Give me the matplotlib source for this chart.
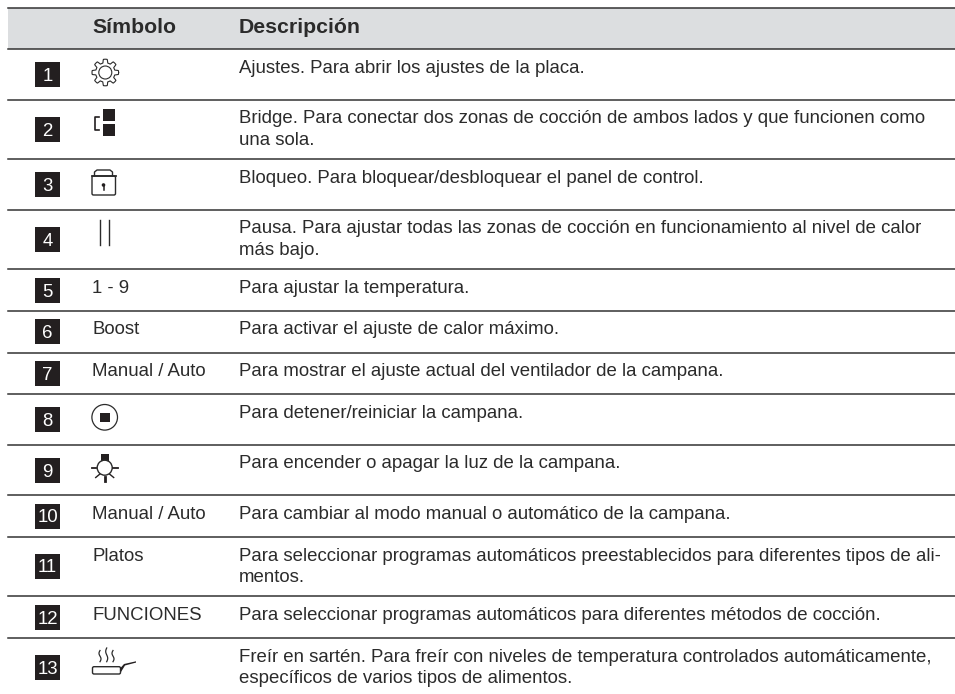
import matplotlib
matplotlib.use('Agg')
import numpy as np
import matplotlib.pyplot as plt
from matplotlib.patches import Rectangle, Circle, FancyBboxPatch, Polygon

plt.rcParams['font.family'] = ['Liberation Sans', 'DejaVu Sans']

header = ['Símbolo', 'Descripción']
row_numbers = ['1', '2', '3', '4', '5', '6', '7', '8', '9', '10', '11', '12', '13']
symbols = ['gear', 'bridge', 'lock', 'pause', '1 - 9', 'Boost', 'Manual / Auto',
           'stop', 'bulb', 'Manual / Auto', 'Platos', 'FUNCIONES', 'pan']
descriptions = [
    'Ajustes. Para abrir los ajustes de la placa.',
    'Bridge. Para conectar dos zonas de cocción de ambos lados y que funcionen como\nuna sola.',
    'Bloqueo. Para bloquear/desbloquear el panel de control.',
    'Pausa. Para ajustar todas las zonas de cocción en funcionamiento al nivel de calor\nmás bajo.',
    'Para ajustar la temperatura.',
    'Para activar el ajuste de calor máximo.',
    'Para mostrar el ajuste actual del ventilador de la campana.',
    'Para detener/reiniciar la campana.',
    'Para encender o apagar la luz de la campana.',
    'Para cambiar al modo manual o automático de la campana.',
    'Para seleccionar programas automáticos preestablecidos para diferentes tipos de ali-\nmentos.',
    'Para seleccionar programas automáticos para diferentes métodos de cocción.',
    'Freír en sartén. Para freír con niveles de temperatura controlados automáticamente,\nespecíficos de varios tipos de alimentos.',
]

# layout in pixels
row_lines = [49, 99.5, 159, 209.7, 269, 310.7, 352.7, 394, 444.7, 495, 537, 596, 638]
box_tops = [62, 117, 172, 227, 278, 319, 361, 407, 458, 504, 554, 605, 655]
LEFT, RIGHT = 8, 955
DESC_X = 239
SYM_X = 92
FS = 13.45
FS_HEAD = 15.3
LINE_STEP = 21.5
INK = '#2b2b2b'
BLACK = '#231f20'

fig = plt.figure(figsize=(9.55, 6.94), dpi=100)
ax = fig.add_axes([0, 0, 1, 1])
ax.set_xlim(0, 955)
ax.set_ylim(694, 0)
ax.axis('off')


def draw_symbol(name, y):
    # y is the top of the row, icons are placed relative to it
    if name == 'gear':
        cx, cy = 105.3, y + 23.5
        ang = np.linspace(0, 2 * np.pi, 289)
        r = 11.5 + 1.8 * np.clip(2.5 * np.cos(8 * ang), -1, 1)
        ax.plot(cx + r * np.cos(ang), cy + r * np.sin(ang), color=INK, lw=0.8)
        ax.add_patch(Circle((cx, cy), 6.5, fc='none', ec=INK, lw=0.8))
    elif name == 'bridge':
        ax.add_patch(Rectangle((102.7, y + 9.5), 12.3, 11.7, fc=BLACK, ec='none'))
        ax.add_patch(Rectangle((102.7, y + 24.8), 12.3, 11.7, fc=BLACK, ec='none'))
        ax.plot([98.5, 95, 95, 98.5], [y + 17.5, y + 17.5, y + 30.5, y + 30.5], color=BLACK, lw=1.2)
    elif name == 'lock':
        ax.add_patch(FancyBboxPatch((92, y + 17), 23.5, 19, boxstyle='round,pad=0,rounding_size=1.5',
                                    fc='none', ec=INK, lw=1))
        ax.plot([94.5, 94.5, 97, 110, 112.5, 112.5], [y + 17, y + 13, y + 11, y + 11, y + 13, y + 17],
                color=INK, lw=1)
        ax.plot([92, 115.5], [y + 17, y + 17], color=INK, lw=1.3)
        ax.add_patch(Circle((103.5, y + 26), 1.8, fc=BLACK, ec='none'))
        ax.plot([103.5, 103.5], [y + 26, y + 31], color=BLACK, lw=1.1)
    elif name == 'pause':
        ax.plot([100, 100], [y + 10, y + 35], color=INK, lw=1)
        ax.plot([108.5, 108.5], [y + 10, y + 35], color=INK, lw=1)
    elif name == 'stop':
        ax.add_patch(Circle((104.7, y + 23.3), 12.8, fc='none', ec=INK, lw=0.9))
        ax.add_patch(Rectangle((100, y + 18.5), 10, 9.6, fc=BLACK, ec='none'))
    elif name == 'bulb':
        cx, cy = 104.7, y + 23
        ax.add_patch(Rectangle((cx - 3.8, y + 9.5), 7.6, 8, fc=BLACK, ec='none'))
        ax.add_patch(Circle((cx, cy), 7.5, fc='white', ec=INK, lw=1, zorder=3))
        ax.plot([cx - 13, cx - 8.5], [cy, cy], color=BLACK, lw=1.3, zorder=3)
        ax.plot([cx + 8.5, cx + 13], [cy, cy], color=BLACK, lw=1.3, zorder=3)
        ax.plot([cx, cx], [cy + 9.5, cy + 13], color=BLACK, lw=2, zorder=3)
        ax.plot([cx - 9, cx - 5], [cy + 9.8, cy + 6.5], color=BLACK, lw=1, zorder=3)
        ax.plot([cx + 9, cx + 5], [cy + 9.8, cy + 6.5], color=BLACK, lw=1, zorder=3)
    elif name == 'pan':
        ax.add_patch(FancyBboxPatch((92.5, y + 28.7), 28, 7.3, boxstyle='round,pad=0,rounding_size=1.5',
                                    fc='none', ec=INK, lw=1))
        ax.add_patch(Polygon([[120.5, y + 30], [124, y + 26], [136, y + 23.3], [136, y + 24.6],
                              [125, y + 27.5], [121, y + 34]], fc=BLACK, ec='none'))
        for sx, top_off in zip([100, 106.7, 113], [12.5, 10, 12.5]):
            t = np.linspace(0, 1, 20)
            ys = y + 23.7 - (23.7 - top_off) * t
            ax.plot(sx + 1.0 * np.sin(t * 2 * np.pi), ys, color=INK, lw=0.9)
    else:
        ax.text(SYM_X, y + 23.7, name, fontsize=FS, color=INK, va='baseline', ha='left')


# header band
ax.add_patch(Rectangle((LEFT, 8), RIGHT - LEFT, 41, fc='#dcdee0', ec='none'))
ax.plot([LEFT, RIGHT], [8, 8], color='#333333', lw=1.1)
ax.text(SYM_X, 33.3, header[0], fontsize=FS_HEAD, fontweight='bold', color=INK, va='baseline')
ax.text(DESC_X, 33.3, header[1], fontsize=FS_HEAD, fontweight='bold', color=INK, va='baseline')

for i, (num, sym, desc) in enumerate(zip(row_numbers, symbols, descriptions)):
    top = row_lines[i]
    ax.plot([LEFT, RIGHT], [top, top], color='#333333', lw=1.1)
    bt = box_tops[i]
    ax.add_patch(Rectangle((35, bt), 25, 25, fc=BLACK, ec='none'))
    ax.text(47.5, bt + 18.5, num, fontsize=FS, color='white', ha='center', va='baseline')
    draw_symbol(sym, top)
    for j, line in enumerate(desc.split('\n')):
        ax.text(DESC_X, top + 23.7 + j * LINE_STEP, line, fontsize=FS, color=INK, va='baseline')

fig.savefig('out.png', dpi=100)
